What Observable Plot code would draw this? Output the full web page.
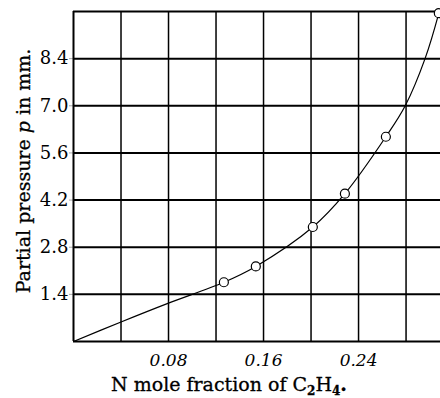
<!DOCTYPE html>
<html>
<head>
<meta charset="utf-8">
<script src="https://cdn.jsdelivr.net/npm/d3@7"></script>
<script src="https://cdn.jsdelivr.net/npm/@observablehq/plot@0.6"></script>
<style>
  html, body { margin: 0; padding: 0; background: #fff; }
  svg { display: block; }
</style>
</head>
<body>
<div id="chart"></div>
<script>
// Measured points (mole fraction of C2H4, partial pressure in mm)
const pointX = [0.1266, 0.1535, 0.2015, 0.2285, 0.2630, 0.3076];
const pointY = [1.76, 2.23, 3.40, 4.39, 6.08, 9.75];

// Smooth curve drawn through the data
const curveX = [0, 0.04, 0.08, 0.1266, 0.1535, 0.2015, 0.2285, 0.2630, 0.2793, 0.296, 0.3076, 0.312];
const curveY = [0, 0.58, 1.14, 1.76, 2.23, 3.40, 4.39, 6.08, 7.00, 8.40, 9.75, 10.4];

// Grid and ticks
const xGrid = [0.04, 0.08, 0.12, 0.16, 0.20, 0.24, 0.28];
const xTickLabels = [0.08, 0.16, 0.24];
const yGrid = [1.4, 2.8, 4.2, 5.6, 7.0, 8.4];
const yTickLabels = [1.4, 2.8, 4.2, 5.6, 7.0, 8.4];

const points = pointX.map((x, i) => ({x, y: pointY[i]}));
const curve = curveX.map((x, i) => ({x, y: curveY[i]}));

const W = 440, H = 398;
const chart = Plot.plot({
  width: W,
  height: H,
  marginLeft: 73,
  marginRight: 0,
  marginTop: 11,
  marginBottom: 57,
  style: {background: "#fff", color: "#000"},
  x: {domain: [0, 0.309], label: null},
  y: {domain: [0, 9.8], label: null},
  marks: [
    Plot.ruleX(xGrid, {stroke: "#000", strokeWidth: 1.5}),
    Plot.ruleY(yGrid, {stroke: "#000", strokeWidth: 2}),
    Plot.ruleY([0, 9.8], {stroke: "#000", strokeWidth: 2}),
    Plot.ruleX([0], {stroke: "#000", strokeWidth: 2}),
    Plot.line(curve, {x: "x", y: "y", curve: "catmull-rom", stroke: "#000", strokeWidth: 1.2, clip: true}),
    Plot.dot(points, {x: "x", y: "y", r: 4.5, fill: "#fff", stroke: "#000", strokeWidth: 1.2}),
    Plot.axisX({ticks: xTickLabels, tickFormat: d => d.toFixed(2), tickSize: 0, tickPadding: 12,
      fontSize: 17, fontFamily: "DejaVu Serif", fontStyle: "italic", label: null}),
    Plot.axisY({ticks: yTickLabels, tickFormat: d => d.toFixed(1), tickSize: 4, tickPadding: 1,
      fontSize: 18, fontFamily: "DejaVu Serif", label: null,
      stroke: "#000", strokeWidth: 0.35})
  ]
});

const svg = d3.select(chart);
// x-axis label with subscripts
const xl = svg.append("text")
  .attr("x", 229).attr("y", 391)
  .attr("text-anchor", "middle")
  .attr("font-family", "DejaVu Serif")
  .attr("font-size", 19)
  .attr("fill", "#000")
  .attr("stroke", "#000").attr("stroke-width", 0.3);
xl.append("tspan").text("N mole fraction of C");
xl.append("tspan").attr("font-size", 12).attr("dy", 4).attr("font-weight", "bold").text("2");
xl.append("tspan").attr("dy", -4).text("H");
xl.append("tspan").attr("font-size", 12).attr("dy", 4).attr("font-weight", "bold").text("4");
xl.append("tspan").attr("dy", -4).attr("font-weight", "bold").text(".");

// y-axis label with italic p
const yl = svg.append("text")
  .attr("transform", "translate(30,171) rotate(-90)")
  .attr("text-anchor", "middle")
  .attr("font-family", "DejaVu Serif")
  .attr("font-size", 19)
  .attr("fill", "#000")
  .attr("stroke", "#000").attr("stroke-width", 0.3);
yl.append("tspan").text("Partial pressure ");
yl.append("tspan").attr("font-style", "italic").text("p");
yl.append("tspan").text(" in mm.");

document.getElementById("chart").appendChild(chart);
</script>
</body>
</html>
